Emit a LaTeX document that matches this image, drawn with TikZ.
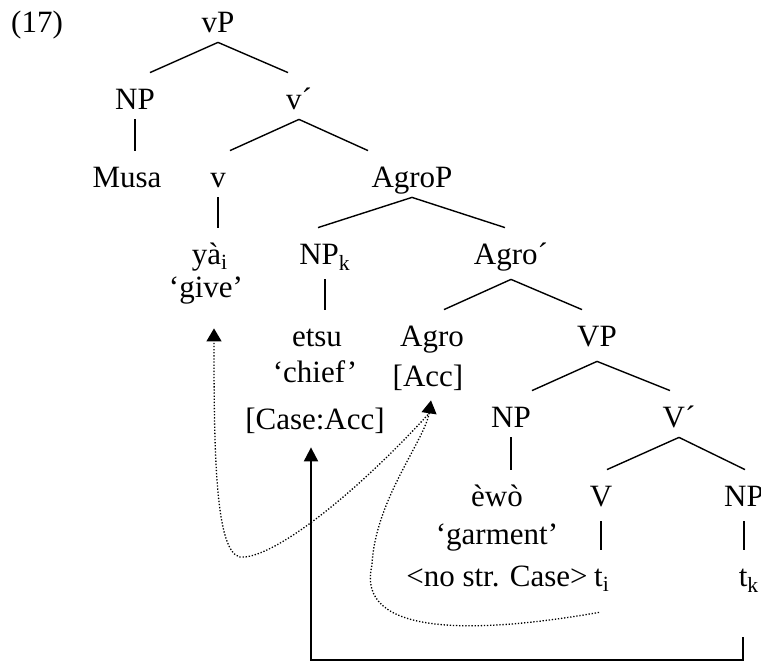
\documentclass[tikz,border=0pt]{standalone}
\usepackage{fontspec}
\setmainfont{Liberation Serif}
\usepackage{tikz}
\usetikzlibrary{shapes,arrows,arrows.meta,positioning,calc}

\begin{document}
\begin{tikzpicture}[x=0.5pt,y=-0.5pt,
	lab/.style={anchor=base,inner sep=0pt,text height=18.5pt,text depth=4.5pt,font=\fontsize{15.5}{18}\selectfont},
	deep/.style={text depth=7pt},
	branch/.style={line width=0.7pt},
	chain/.style={line width=0.65pt,dash pattern=on 0.65pt off 0.9pt,-{Triangle[width=7.5pt,length=6.5pt]}}]
	\useasboundingbox (0,0) rectangle (761,662);
	
	\node[lab] (ex) at (37,33) {(17)};
	\node[lab] (vP) at (218,33) {vP};
	\node[lab] (NPa) at (135,110) {NP};
	\node[lab] (vbar) at (299,110) {v´};
	\node[lab] (Musa) at (127,188) {Musa};
	\node[lab] (v) at (218,188) {v};
	\node[lab] (AgroP) at (412,188) {AgroP};
	\node[lab] (ya) at (210,265) {yà\textsubscript{i}};
	\node[lab] (give) at (206,298) {‘give’};
	\node[lab,deep] (NPk) at (325,265) {NP\textsubscript{k}};
	\node[lab,deep] (Agrobar) at (511,265) {Agro´};
	\node[lab] (etsu) at (317,347) {etsu};
	\node[lab] (chief) at (315,383) {‘chief’};
	\node[lab] (case) at (315,430) {[Case:Acc]};
	\node[lab] (Agro) at (432,347) {Agro};
	\node[lab] (Acc) at (428,387) {[Acc]};
	\node[lab,deep] (VP) at (597,347) {VP};
	\node[lab] (NPb) at (511,428) {NP};
	\node[lab] (Vbar) at (679,428) {V´};
	\node[lab] (ewo) at (497,507) {èwò};
	\node[lab] (garment) at (497,545) {‘garment’};
	\node[lab] (nostr) at (497,587) {<no str. Case>};
	\node[lab,deep] (V) at (601,507) {V};
	\node[lab,deep] (NPc) at (744,507) {NP};
	\node[lab] (ti) at (602,587) {t\textsubscript{i}};
	\node[lab] (tk) at (749,587) {t\textsubscript{k}};
	
	% branching
	\foreach \p/\c/\d in {vP/NPa/15, vP/vbar/-11, vbar/v/12, vbar/AgroP/-44, AgroP/NPk/-7, AgroP/Agrobar/-6,
		Agrobar/Agro/12, Agrobar/VP/-15, VP/NPb/21, VP/Vbar/-9, Vbar/V/6, Vbar/NPc/1}
		\draw[branch] (\p.south) -- ($(\c.north)+(\d,0)$);
	% non-branching
	\foreach \p/\c in {NPa/Musa, v/ya, NPk/etsu, NPb/ewo, V/ti, NPc/tk}
		\draw[branch] (\p.south) -- (\p.south |- \c.north);
	
	% movement
	\draw[line width=1pt,-{Triangle[width=7pt,length=7pt]}] ($(tk.south)+(-6,41)$) -- ++(0,23) -| ($(case.south)+(-4,8)$);
	\draw[chain] ($(ti.south)+(-3,16)$) .. controls (470,635) and (355,635) .. (372,565) .. controls (375,500) and (425,440) .. ($(Acc.south)+(3,4)$);
	\draw[chain] ($(Acc.south)+(2,16)$) .. controls (350,500) and (270,560) .. (240,557) .. controls (215,552) and (214,450) .. ($(give.south)+(8,21)$);
\end{tikzpicture}
\end{document}
